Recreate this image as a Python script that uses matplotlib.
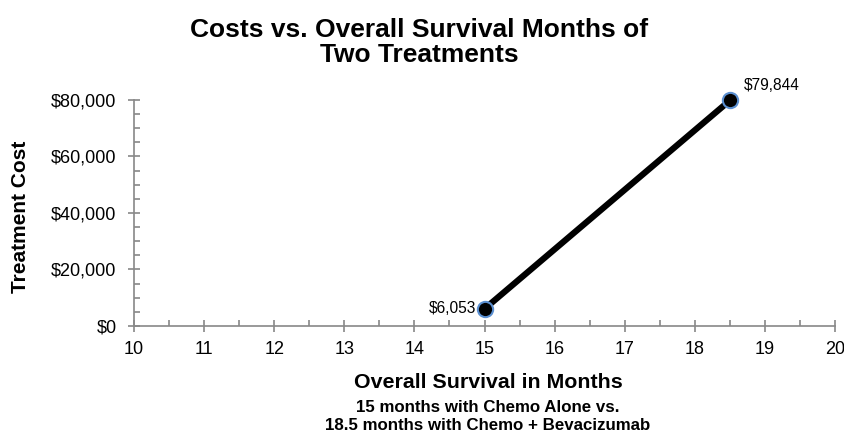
import matplotlib.pyplot as plt
from matplotlib.ticker import MultipleLocator, FuncFormatter

plt.rcParams['font.family'] = ['Liberation Sans', 'DejaVu Sans']

# data
months = [15, 18.5]
costs = [6053, 79844]
cost_labels = ['$6,053', '$79,844']

fig = plt.figure(figsize=(8.45, 4.34), dpi=100, facecolor='w')
ax = fig.add_axes([0.1586, 0.249, 0.8296, 0.5206])

ax.plot(months, costs, '-', color='black', lw=4.5, zorder=2, clip_on=False)
ax.plot(months, costs, 'o', ms=11, mfc='black', mec='#5b8fd0', mew=1.5, zorder=3, clip_on=False)

ax.annotate(cost_labels[0], (months[0], costs[0]), xytext=(-6, 0), textcoords='offset points',
            ha='right', va='center', fontsize=11.2)
ax.annotate(cost_labels[1], (months[1], costs[1]), xytext=(10, 5), textcoords='offset points',
            ha='left', va='bottom', fontsize=11.2)

ax.set_xlim(10, 20)
ax.set_ylim(0, 80000)
ax.xaxis.set_major_locator(MultipleLocator(1))
ax.xaxis.set_minor_locator(MultipleLocator(0.5))
ax.yaxis.set_major_locator(MultipleLocator(20000))
ax.yaxis.set_minor_locator(MultipleLocator(5000))
ax.yaxis.set_major_formatter(FuncFormatter(lambda v, p: '${:,.0f}'.format(v)))

for s in ['top', 'right']:
    ax.spines[s].set_visible(False)
for s in ['left', 'bottom']:
    ax.spines[s].set_color('#888888')
    ax.spines[s].set_linewidth(1.2)
ax.tick_params(which='major', direction='inout', length=9, width=1.2, color='#888888',
               labelsize=13)
ax.tick_params(axis='x', which='major', pad=6)
ax.tick_params(axis='y', which='major', pad=8)
ax.tick_params(which='minor', direction='in', length=4, width=1.2, color='#888888')
ax.patch.set_visible(False)

fig.text(0.0237, 0.5, 'Treatment Cost', rotation=90, ha='center', va='center',
         fontsize=15, fontweight='bold')
fig.text(0.5775, 0.1198, 'Overall Survival in Months', ha='center', va='center',
         fontsize=15.4, fontweight='bold')
fig.text(0.5775, 0.0405, '15 months with Chemo Alone vs.\n18.5 months with Chemo + Bevacizumab',
         ha='center', va='center', fontsize=12.2, fontweight='bold', linespacing=1.2)
fig.text(0.496, 0.902, 'Costs vs. Overall Survival Months of\nTwo Treatments',
         ha='center', va='center', fontsize=19, fontweight='bold', linespacing=1.1)

fig.savefig('out.png', dpi=100)
